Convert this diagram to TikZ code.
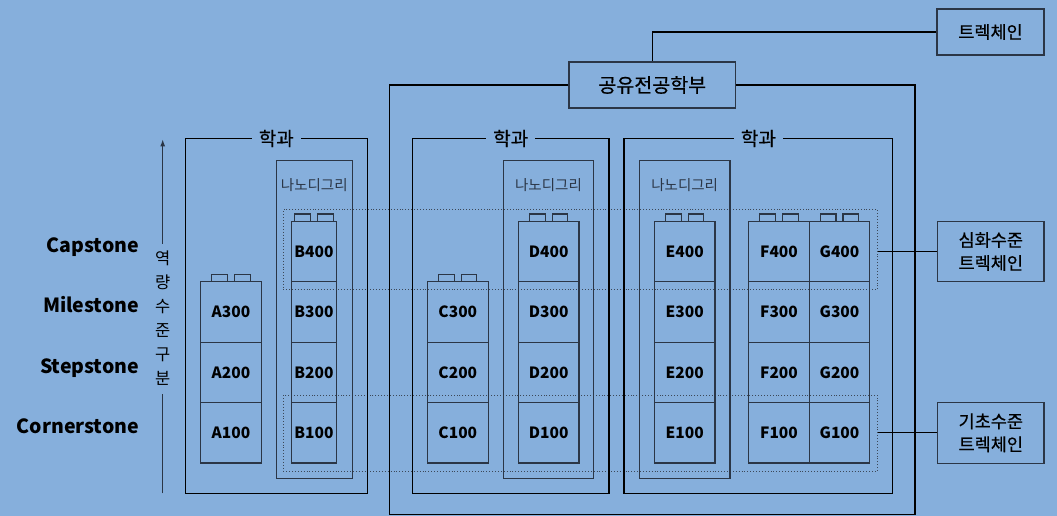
\documentclass[tikz,border=0pt]{standalone}
\usepackage{fontspec}
\setmainfont{Noto Sans CJK KR}
\newfontfamily\kmedium{Noto Sans CJK KR}[FakeBold=0.6]
\usepackage{tikz}
\usetikzlibrary{arrows.meta,positioning}
\definecolor{SkyField}{HTML}{86AFDC}
\definecolor{InkSlate}{HTML}{2B3646}
\definecolor{DotGrey}{HTML}{3C4858}

\begin{document}
\begin{tikzpicture}[x=1pt, y=-1pt,
  linkline/.style={draw=black, line width=1.2pt},
  axisline/.style={draw=InkSlate, line width=1.2pt},
  deptbox/.style={draw=black, line width=1.2pt, inner sep=0pt, outer sep=0pt},
  depttitle/.style={fill=SkyField, inner xsep=7pt, inner ysep=1pt,
    font=\kmedium\fontsize{19}{21}\selectfont},
  nanobox/.style={draw=InkSlate, line width=1.4pt, inner sep=0pt},
  nanotitle/.style={text=InkSlate, font=\fontsize{14.5}{16}\selectfont},
  courseblock/.style={draw=InkSlate, line width=1.2pt, minimum height=60.4pt,
    inner sep=0pt, outer sep=0pt, font=\bfseries\fontsize{15.5}{18}\selectfont},
  blocknub/.style={draw=InkSlate, line width=1.1pt, minimum width=15.6pt,
    minimum height=7.4pt, inner sep=0pt, outer sep=0pt, anchor=south},
  levelband/.style={draw=DotGrey, dotted, line width=0.9pt, inner sep=0pt},
  trackbox/.style={draw=InkSlate, line width=1.2pt, align=center, inner sep=0pt,
    font=\kmedium\fontsize{17.5}{23}\selectfont},
  stagelabel/.style={anchor=base east, inner sep=0pt,
    font=\bfseries\fontsize{19.5}{24}\selectfont}
]
\fill[SkyField] (0,0) rectangle (1057,516);
\useasboundingbox (0,0) rectangle (1057,516);

% level bands
\node[levelband, minimum width=594.4pt, minimum height=79.6pt] (upband) at (580.5,249.5) {};
\node[levelband, minimum width=594.4pt, minimum height=75.7pt] (lowband) at (580.5,433.2) {};

% departments
\node[deptbox, minimum width=182pt, minimum height=355pt] (dept1) at (276.3,316) {};
\node[deptbox, minimum width=196.7pt, minimum height=355pt] (dept2) at (510.7,316) {};
\node[deptbox, minimum width=268.7pt, minimum height=355pt] (dept3) at (758.4,316) {};
\node[depttitle] at (dept1.north) {학과};
\node[depttitle] at (dept2.north) {학과};
\node[depttitle] at (dept3.north) {학과};

% nanodegrees
\node[nanobox, minimum width=76pt, minimum height=318pt] (nanob) at (314.3,319.7) {};
\node[nanobox, minimum width=90.4pt, minimum height=318pt] (nanod) at (548.5,319.7) {};
\node[nanobox, minimum width=90.7pt, minimum height=318pt] (nanoe) at (684.7,319.7) {};
\node[nanotitle] at (314.3,185) {나노디그리};
\node[nanotitle] at (548.5,185) {나노디그리};
\node[nanotitle] at (684.7,185) {나노디그리};

% course blocks
\foreach \col/\lbl/\cx/\w/\n in {a/A/231/60.5/3, b/B/314/45.5/4, c/C/457.8/61/3,
    d/D/548.7/60.7/4, e/E/684.7/60.7/4, f/F/779/60.6/4, g/G/839.5/60.4/4}{
  \foreach \r in {1,...,\n}
    \node[courseblock, minimum width=\w pt] (\col\r) at (\cx,{463-(\r-0.5)*60.4}) {\lbl\r00};
  \node[blocknub, xshift=-11.3pt] at (\col\n.north) {};
  \node[blocknub, xshift=11.3pt] at (\col\n.north) {};
}

% shared major and tracks
\node[trackbox, minimum width=166.7pt, minimum height=46pt,
  font=\kmedium\fontsize{19.5}{21}\selectfont] (shared) at (652.3,85) {공유전공학부};
\node[trackbox, minimum width=107pt, minimum height=46pt] (trek) at (990.5,32) {트렉체인};
\node[trackbox, minimum width=106.3pt, minimum height=60.4pt] (adv) at (990.8,251.5) {심화수준\\트렉체인};
\node[trackbox, minimum width=106.3pt, minimum height=61pt] (basic) at (990.8,432.8) {기초수준\\트렉체인};
\coordinate (bigsw) at (389.5,514.5);
\coordinate (bigse) at (915,514.5);
\draw[linkline] (trek.west) -| (shared.north);
\draw[linkline] (shared.west) -| (bigsw) -- (bigse) |- (shared.east);
\draw[linkline] (adv.west) -- (adv.west -| upband.east);
\draw[linkline] (basic.west) -- (basic.west -| lowband.east);

% competency axis
\node[align=center, inner xsep=0pt, inner ysep=7.5pt, font=\fontsize{16.5}{24}\selectfont]
  (axis) at (162.7,318.5) {역\\량\\수\\준\\구\\분};
\coordinate (axtop) at (162.7,139.3);
\coordinate (axbot) at (162.7,493.3);
\draw[axisline] (axbot) -- (axis.south);
\draw[axisline, -{Latex[length=7pt,width=5pt]}] (axis.north) -- (axtop);

\node[stagelabel] (capstone) at (139.3,252) {Capstone};
\node[stagelabel] (milestone) at (139.3,312.5) {Milestone};
\node[stagelabel] (stepstone) at (139.3,373) {Stepstone};
\node[stagelabel] (cornerstone) at (139.3,433.5) {Cornerstone};
\end{tikzpicture}
\end{document}
